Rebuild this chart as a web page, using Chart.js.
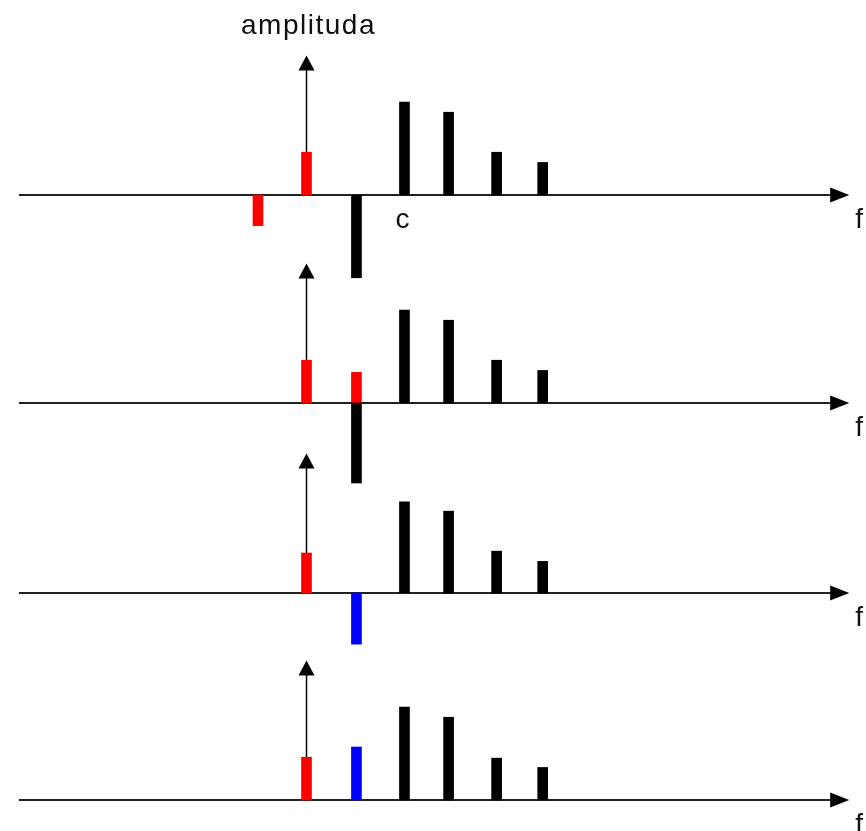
<!DOCTYPE html>
<html>
<head>
<meta charset="utf-8">
<script src="https://cdn.jsdelivr.net/npm/chart.js@4/dist/chart.umd.min.js"></script>
<style>
  body { margin: 0; background: #fff; }
  canvas { display: block; }
</style>
</head>
<body>
<canvas id="myChart" width="866" height="831"></canvas>
<script>
// frequencies (axis units, carrier at 0)
const harmonicFreqs = [2.02, 2.93, 3.92, 4.87];
const sideFreqs = [-1.0, 0, 1.03];

// panel 1
const red1 = [-3.3, 4.6];          // at -1.0 and 0
const black1 = [-8.9];             // at 1.03
const harmonics1 = [10, 8.9, 4.6, 3.5];
// panel 2
const red2 = [4.6, 3.3];           // at 0 and 1.03
const black2 = [-8.6];             // at 1.03
const harmonics2 = [10, 8.9, 4.6, 3.5];
// panel 3
const red3 = [4.3];                // at 0
const blue3 = [-5.5];              // at 1.03
const harmonics3 = [9.8, 8.8, 4.5, 3.4];
// panel 4
const red4 = [4.6];
const blue4 = [5.7];
const harmonics4 = [10, 8.9, 4.5, 3.5];

const yLabel = 'amplituda';
const xLabel = 'f';
const markLabel = 'c';
const arrowTop = 15;   // amplitude where vertical arrow ends

function pts(xs, ys) {
    return ys.map((v, i) => ({ x: xs[i], y: v }));
}

const datasets = [
    { data: pts([sideFreqs[0], sideFreqs[1]], red1), backgroundColor: '#ff0000', yAxisID: 'y1' },
    { data: pts([sideFreqs[2]], black1), backgroundColor: '#000000', yAxisID: 'y1' },
    { data: pts(harmonicFreqs, harmonics1), backgroundColor: '#000000', yAxisID: 'y1' },

    { data: pts([sideFreqs[2]], black2), backgroundColor: '#000000', yAxisID: 'y2' },
    { data: pts([sideFreqs[1], sideFreqs[2]], red2), backgroundColor: '#ff0000', yAxisID: 'y2' },
    { data: pts(harmonicFreqs, harmonics2), backgroundColor: '#000000', yAxisID: 'y2' },

    { data: pts([sideFreqs[1]], red3), backgroundColor: '#ff0000', yAxisID: 'y3' },
    { data: pts([sideFreqs[2]], blue3), backgroundColor: '#0000ff', yAxisID: 'y3' },
    { data: pts(harmonicFreqs, harmonics3), backgroundColor: '#000000', yAxisID: 'y3' },

    { data: pts([sideFreqs[1]], red4), backgroundColor: '#ff0000', yAxisID: 'y4' },
    { data: pts([sideFreqs[2]], blue4), backgroundColor: '#0000ff', yAxisID: 'y4' },
    { data: pts(harmonicFreqs, harmonics4), backgroundColor: '#000000', yAxisID: 'y4' }
];
datasets.forEach(d => { d.barThickness = 10; d.grouped = false; });

// pixel layout of the four stacked panels
const H = 831, W = 866;
const pxPerAmp = 9.3, pxPerFreq = 48.5, originX = 306.5;
const baselines = [195, 403, 593, 800];

const scales = {
    x: { type: 'linear', display: false, offset: false, grid: { offset: false },
         min: -originX / pxPerFreq, max: (W - originX) / pxPerFreq }
};
baselines.forEach((b, i) => {
    scales['y' + (i + 1)] = { type: 'linear', display: false, min: -(H - b) / pxPerAmp, max: b / pxPerAmp };
});

const axesPlugin = {
    id: 'axes',
    beforeDatasetsDraw(chart) {
        const ctx = chart.ctx;
        const xs = chart.scales.x;
        const x0 = xs.getPixelForValue(0);
        const xStart = xs.getPixelForValue(-5.93);
        const xTip = xs.getPixelForValue(11.19);
        ctx.save();
        ['y1', 'y2', 'y3', 'y4'].forEach(id => {
            const ys = chart.scales[id];
            const y0 = ys.getPixelForValue(0);
            // horizontal axis
            ctx.strokeStyle = '#222';
            ctx.lineWidth = 2;
            ctx.beginPath();
            ctx.moveTo(xStart, y0);
            ctx.lineTo(xTip - 10, y0);
            ctx.stroke();
            ctx.fillStyle = '#000';
            ctx.beginPath();
            ctx.moveTo(xTip, y0);
            ctx.lineTo(xTip - 19, y0 - 7.5);
            ctx.lineTo(xTip - 19, y0 + 7.5);
            ctx.closePath();
            ctx.fill();
            // vertical axis
            const yTip = ys.getPixelForValue(arrowTop);
            ctx.strokeStyle = '#000';
            ctx.lineWidth = 1.5;
            ctx.beginPath();
            ctx.moveTo(x0, y0);
            ctx.lineTo(x0, yTip + 8);
            ctx.stroke();
            ctx.beginPath();
            ctx.moveTo(x0, yTip);
            ctx.lineTo(x0 - 8, yTip + 15);
            ctx.lineTo(x0 + 8, yTip + 15);
            ctx.closePath();
            ctx.fill();
            // f label
            ctx.fillStyle = '#111';
            ctx.font = '28px "Liberation Sans", Arial, sans-serif';
            ctx.textAlign = 'center';
            ctx.textBaseline = 'alphabetic';
            ctx.fillText(xLabel, xTip + 10, y0 + 33);
        });
        const y1 = chart.scales.y1.getPixelForValue(0);
        ctx.fillText(markLabel, xs.getPixelForValue(harmonicFreqs[0]) - 2, y1 + 33);
        ctx.letterSpacing = '1.5px';
        ctx.fillText(yLabel, x0 + 2, 34);
        ctx.restore();
    }
};

new Chart(document.getElementById('myChart').getContext('2d'), {
    type: 'bar',
    data: { datasets: datasets },
    options: {
        responsive: false,
        animation: false,
        devicePixelRatio: 1,
        layout: { padding: 0 },
        scales: scales,
        plugins: { legend: { display: false }, tooltip: { enabled: false } }
    },
    plugins: [axesPlugin]
});
</script>
</body>
</html>
